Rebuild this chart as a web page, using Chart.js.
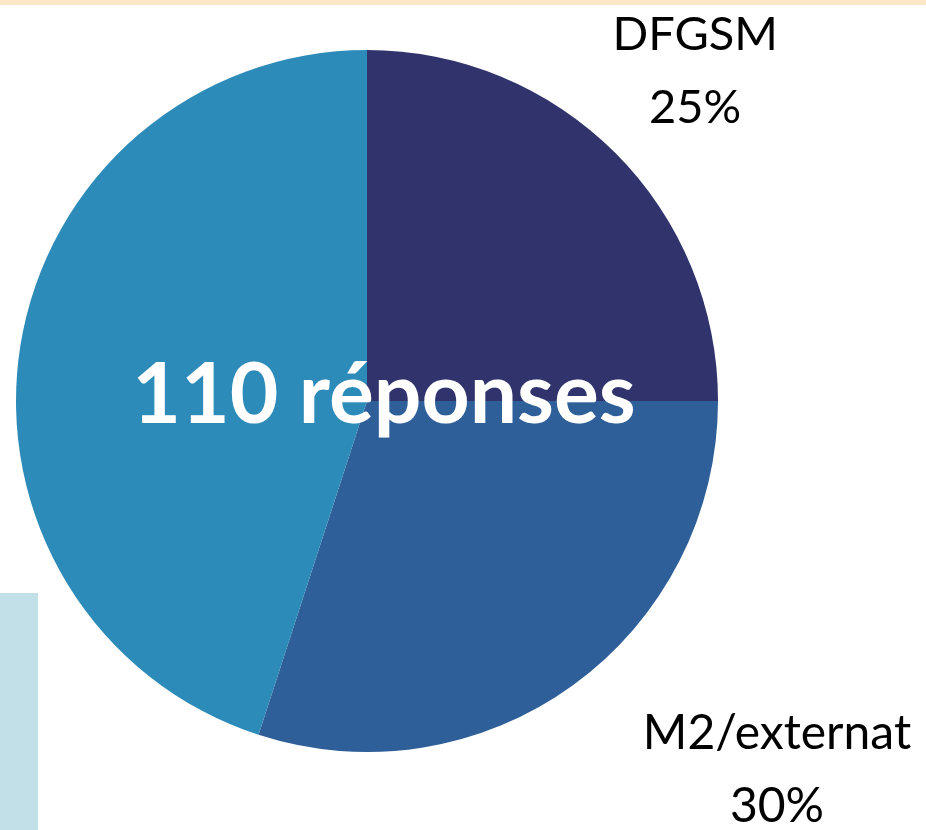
<!DOCTYPE html>
<html>
<head>
<meta charset="utf-8">
<script src="https://cdn.jsdelivr.net/npm/chart.js@4"></script>
<style>
    html, body { margin: 0; padding: 0; background: #ffffff; }
    body { width: 926px; height: 830px; position: relative; overflow: hidden; }
    .top-band { position: absolute; left: 0; top: 0; width: 926px; height: 5px; background: #fbe7c6; }
    .side-block { position: absolute; left: 0; top: 593px; width: 38px; height: 237px; background: #c1e0e7; }
    #wrap { position: absolute; left: 0; top: 0; width: 926px; height: 830px; }
</style>
</head>
<body>
<div class="top-band"></div>
<div class="side-block"></div>
<div id="wrap"><canvas id="pie" width="926" height="830"></canvas></div>
<script>
(function () {
    'use strict';

    const categories = ['DFGSM', 'M2/externat', ''];
    const shares = [25, 30, 45];
    const sliceColors = ['#31346c', '#2e5f98', '#2d8bb9'];
    const centerText = '110 réponses';

    // where each slice's label sits, relative to the pie centre (in radii)
    const labelAnchors = [
        { dx: 0.935, dy: -0.94, size: 47 },
        { dx: 1.168, dy: 1.05, size: 48 },
        null
    ];

    const labelPlugin = {
        id: 'sliceLabels',
        afterDatasetsDraw(chart) {
            const ctx = chart.ctx;
            const meta = chart.getDatasetMeta(0);
            const arc = meta.data[0];
            if (!arc) return;
            const cx = arc.x, cy = arc.y, r = arc.outerRadius;

            ctx.save();
            ctx.textAlign = 'center';
            ctx.textBaseline = 'alphabetic';
            ctx.fillStyle = '#000000';
            meta.data.forEach((el, i) => {
                const a = labelAnchors[i];
                if (!a || !categories[i]) return;
                const x = cx + a.dx * r;
                const y = cy + a.dy * r;
                ctx.font = a.size + 'px Lato, "Noto Sans", sans-serif';
                ctx.fillText(categories[i], x, y - 21);
                ctx.fillText(shares[i] + '%', x, y + 52);
            });

            ctx.fillStyle = '#ffffff';
            ctx.font = 'bold 84px Lato, "Noto Sans", sans-serif';
            ctx.fillText(centerText, cx + 17, cy + 22);
            ctx.restore();
        }
    };

    new Chart(document.getElementById('pie').getContext('2d'), {
        type: 'pie',
        data: {
            labels: categories,
            datasets: [{
                data: shares,
                backgroundColor: sliceColors,
                borderWidth: 0
            }]
        },
        options: {
            responsive: false,
            animation: false,
            layout: { padding: { left: 16, top: 50, right: 208, bottom: 78 } },
            plugins: {
                legend: { display: false },
                tooltip: { enabled: false }
            }
        },
        plugins: [labelPlugin]
    });
})();
</script>
</body>
</html>
